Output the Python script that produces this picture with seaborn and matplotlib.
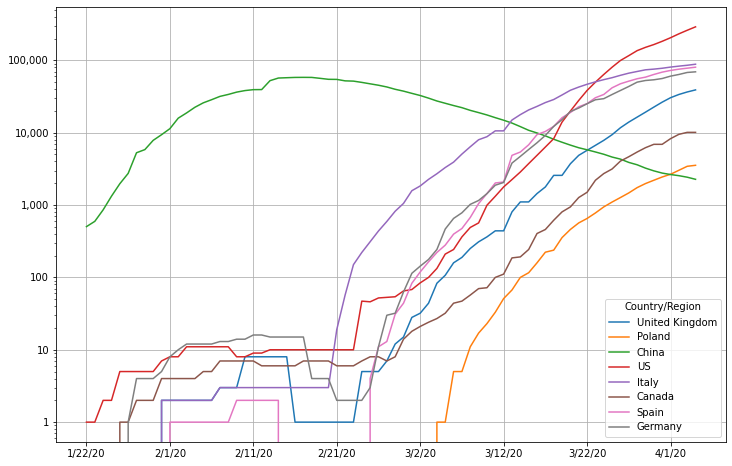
import numpy as np
import pandas as pd
import matplotlib
matplotlib.use("Agg")
import matplotlib.pyplot as plt
from matplotlib.ticker import FuncFormatter, NullFormatter, FixedLocator, LogLocator
import seaborn as sns

# ---- data (active cases) ----
n_days = 74
tick_labels = ["1/22/20", "2/1/20", "2/11/20", "2/21/20", "3/2/20", "3/12/20", "3/22/20", "4/1/20"]
y_ticks = [1, 10, 100, 1000, 10000, 100000]
countries = ["United Kingdom", "Poland", "China", "US", "Italy", "Canada", "Spain", "Germany"]

united_kingdom = ([0] * 9 + [2] * 7 + [3] * 3 + [8] * 6 + [1] * 8 + [5] * 3 +
                  [7, 12, 15, 28,
                   32, 44, 83, 107, 159, 189, 251, 310, 363, 440,
                   440, 804, 1104, 1104, 1440, 1778, 2570, 2570, 3720, 4860,
                   5700, 6680, 7830, 9380, 11700, 14000, 16400, 19200, 22550, 26400,
                   30400, 33700, 36500, 39000])

poland = ([0] * 42 +
          [1, 1, 5, 5, 11, 17, 23, 33, 51, 67,
           100, 116, 159, 223, 238, 355, 460, 566, 652, 777,
           942, 1100, 1270, 1470, 1740, 1980, 2200, 2440, 2660, 3020,
           3430, 3540])

china = [503, 595, 858, 1325, 1970, 2737, 5277, 5834, 7835, 9375,
         11357, 15863, 18741, 22439, 25835, 28549, 31714, 33757, 36329, 38165,
         39300, 39400, 52309, 56864, 57456, 58000, 58116, 58010, 56347, 54618,
         54457, 51998, 51552, 49520, 47310, 45227, 42810, 39760, 37488, 34929,
         32618, 30004, 27402, 25477, 23702, 22159, 20335, 18933, 17567, 16116,
         14859, 13569, 12124, 10783, 9906, 9030, 8106, 7372, 6731, 6189,
         5799, 5410, 5030, 4603, 4310, 3881, 3600, 3236, 2967, 2764,
         2640, 2545, 2425, 2267]

us = [1, 1, 2, 2, 5, 5, 5, 5, 5, 7,
      8, 8, 11, 11, 11, 11, 11, 11, 8, 8,
      9, 9, 10, 10, 10, 10, 10, 10, 10, 10,
      10, 10, 10, 47, 46, 52, 53, 54, 65, 68,
      84, 100, 133, 210, 243, 363, 490, 566, 994, 1322,
      1778, 2250, 2860, 3735, 4860, 6330, 8260, 14000, 19860, 27900,
      38300, 49900, 63700, 80300, 99400, 116000, 136000, 151000, 165000, 183000,
      205000, 232000, 260000, 290000]

italy = ([0] * 9 + [2] * 7 + [3] * 14 +
         [19, 57, 150, 221, 311, 438, 593, 821, 1053, 1577,
          1835, 2263, 2706, 3296, 3916, 5061, 6387, 7985, 8794, 10590,
          10590, 14955, 17750, 20603, 23073, 26062, 28710, 33190, 38549, 42681,
          46638, 50418, 54030, 57521, 62013, 66414, 70065, 73880, 75528, 77635,
          80572, 83049, 85388, 88274])

canada = ([0] * 4 + [1] * 2 + [2] * 3 + [4] * 5 + [5] * 2 + [7] * 5 + [6] * 5 + [7] * 4 + [6] * 3 +
          [7, 8, 8, 7, 8, 14, 18,
           21, 24, 27, 32, 44, 47, 57, 70, 72, 100,
           111, 186, 192, 243, 404, 459, 616, 804, 942, 1270,
           1500, 2200, 2720, 3150, 4050, 4650, 5400, 6200, 6900, 6900,
           8260, 9480, 10100, 10100])

spain = ([0] * 10 + [1] * 8 + [2] * 6 + [0] * 10 +
         [4, 11, 13, 31, 44, 83,
          119, 164, 221, 279, 396, 474, 673, 1048, 1440, 2018,
          2080, 4860, 5400, 6800, 9400, 10400, 12200, 16100, 19000, 22800,
          25200, 30400, 33700, 41700, 47400, 51500, 55600, 58500, 63700, 68600,
          72400, 75400, 77800, 80300])

germany = ([0] * 5 + [1] + [4] * 3 + [5] +
           [8, 10, 12, 12, 12, 12, 13, 13] +
           [14, 14, 16, 16, 15, 15, 15, 15, 15, 4, 4, 4, 2, 2, 2, 2, 3] +
           [11, 30, 32, 63, 114,
            143, 177, 243, 466, 653, 781, 1022, 1156, 1437, 1880,
            2050, 3800, 4700, 5850, 7250, 9166, 12194, 15163, 19601, 21896,
            25100, 28500, 29500, 33700, 38300, 43500, 49900, 52600, 53800, 56000,
            60400, 63700, 67900, 69300])

series = {
    "United Kingdom": united_kingdom,
    "Poland": poland,
    "China": china,
    "US": us,
    "Italy": italy,
    "Canada": canada,
    "Spain": spain,
    "Germany": germany,
}

rows = []
for name in countries:
    vals = series[name]
    assert len(vals) == n_days, (name, len(vals))
    for d, v in enumerate(vals):
        rows.append({"day": d, "cases": v, "Country/Region": name})
df = pd.DataFrame(rows)

# ---- plot ----
fig = plt.figure(figsize=(732 / 72, 466 / 72), dpi=72)
ax = fig.add_axes([56 / 732, 1 - 441.5 / 466, (726 - 56) / 732, (441.5 - 7.3) / 466])

palette = sns.color_palette("tab10", n_colors=8)
sns.lineplot(data=df, x="day", y="cases", hue="Country/Region", hue_order=countries,
             palette=palette, errorbar=None, linewidth=1.5, ax=ax)

ax.set_yscale("log", nonpositive="clip")
ax.set_ylim(0.54, 540000)
ax.set_xlim(-3.65, n_days - 1 + 3.65)

ax.xaxis.set_major_locator(FixedLocator(list(range(0, n_days, 10))))
ax.set_xticklabels(tick_labels)
ax.yaxis.set_major_locator(FixedLocator(y_ticks))
ax.yaxis.set_minor_locator(LogLocator(base=10, subs=np.arange(2, 10), numticks=20))
ax.yaxis.set_major_formatter(FuncFormatter(lambda v, p: f"{v:,.0f}"))
ax.yaxis.set_minor_formatter(NullFormatter())
ax.tick_params(labelsize=10)
ax.set_xlabel("")
ax.set_ylabel("")
ax.grid(True, which="major", color="#b0b0b0", linewidth=0.8)
ax.set_axisbelow(True)

sns.move_legend(ax, "lower right", title="Country/Region", fontsize=10, title_fontsize=10)

fig.savefig("out.png", dpi=72)
